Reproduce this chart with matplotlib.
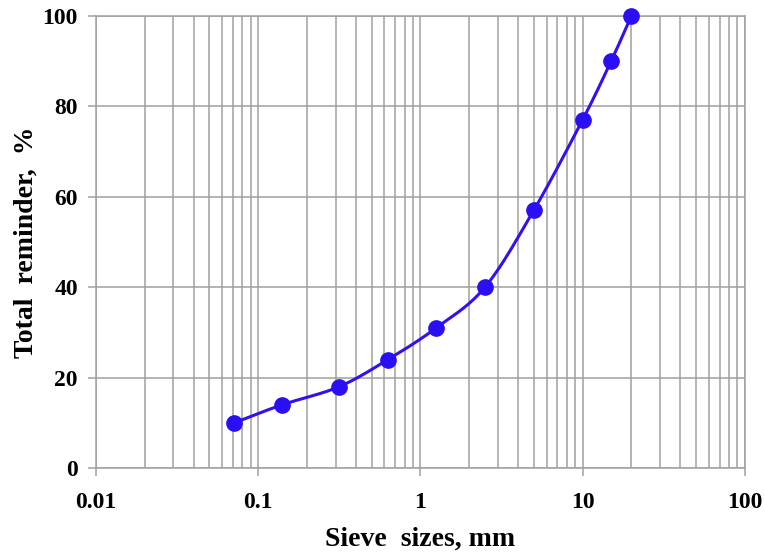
import numpy as np
import matplotlib.pyplot as plt
from matplotlib.ticker import LogLocator, FixedLocator, NullFormatter

# sieve data
sieve_mm = [0.071, 0.14, 0.315, 0.63, 1.25, 2.5, 5, 10, 15, 20]
remainder = [10, 14, 18, 24, 31, 40, 57, 77, 90, 100]
x_ticks = [0.01, 0.1, 1, 10, 100]
x_labels = ['0.01', '0.1', '1', '10', '100']
y_ticks = [0, 20, 40, 60, 80, 100]

plt.rcParams['font.family'] = ['Liberation Serif', 'DejaVu Serif']
plt.rcParams['font.weight'] = 'bold'


def smooth(xs, ys, n=30):
    # catmull-rom in log-x space, like a spreadsheet smoothed line
    px = np.log10(xs)
    py = np.asarray(ys, dtype=float)
    px = np.concatenate([[2 * px[0] - px[1]], px, [2 * px[-1] - px[-2]]])
    py = np.concatenate([[2 * py[0] - py[1]], py, [2 * py[-1] - py[-2]]])
    out_x, out_y = [], []
    t = np.linspace(0, 1, n)
    for i in range(1, len(px) - 2):
        for arr, out in ((px, out_x), (py, out_y)):
            p0, p1, p2, p3 = arr[i - 1], arr[i], arr[i + 1], arr[i + 2]
            out.extend(0.5 * (2 * p1 + (-p0 + p2) * t
                              + (2 * p0 - 5 * p1 + 4 * p2 - p3) * t ** 2
                              + (-p0 + 3 * p1 - 3 * p2 + p3) * t ** 3))
    return 10 ** np.array(out_x), np.array(out_y)


fig = plt.figure(figsize=(7.64, 5.54), dpi=100)
ax = fig.add_axes([0.1257, 0.155, 0.849, 0.816])

grid_c = '#a0a0a0'
sx, sy = smooth(sieve_mm, remainder)
ax.plot(sx, sy, color='#3311ee', lw=2.2, zorder=3, clip_on=False)
ax.plot(sieve_mm, remainder, 'o', color='#2a0ff5', ms=11, zorder=4, clip_on=False)

ax.set_xscale('log')
ax.set_xlim(0.01, 100)
ax.set_ylim(0, 100)
ax.xaxis.set_major_locator(FixedLocator(x_ticks))
ax.set_xticklabels(x_labels)
ax.xaxis.set_minor_locator(LogLocator(base=10, subs=np.arange(2, 10)))
ax.xaxis.set_minor_formatter(NullFormatter())
ax.set_yticks(y_ticks)

ax.grid(True, which='major', color=grid_c, lw=1.1)
ax.grid(True, which='minor', axis='x', color=grid_c, lw=1.1)
ax.set_axisbelow(True)
for s in ax.spines.values():
    s.set_color(grid_c)
    s.set_linewidth(1.1)

ax.tick_params(axis='both', which='major', labelsize=17, color=grid_c,
               length=6, width=1.1, pad=7)
ax.tick_params(axis='x', which='minor', length=0)
ax.tick_params(axis='x', which='major', pad=11)

ax.set_xlabel('Sieve  sizes, mm', fontsize=20, fontweight='bold', labelpad=10)
ax.set_ylabel('Total  reminder,  %', fontsize=20, fontweight='bold', labelpad=3)

fig.savefig('out.png', dpi=100)
